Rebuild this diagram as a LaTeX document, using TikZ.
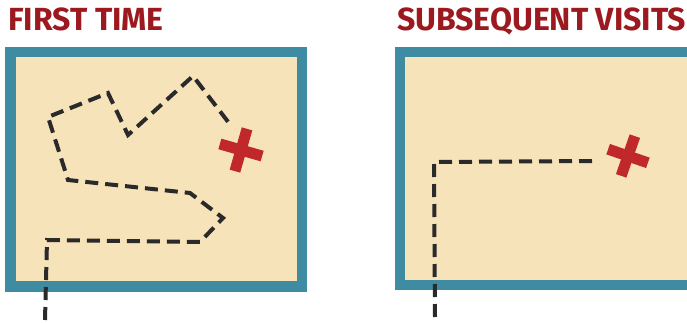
\documentclass[tikz,border=0pt]{standalone}
\usepackage{fontspec}
\setsansfont{Fira Sans}
\usepackage{tikz}
\usetikzlibrary{calc}
\usepackage{xcolor}
\definecolor{ftitle}{HTML}{9C1A1F}
\definecolor{fteal}{HTML}{3F8CA2}
\definecolor{fmap}{HTML}{F6E3B9}
\definecolor{fcross}{HTML}{C1282A}
\definecolor{ftrail}{HTML}{2A2A2A}
\tikzset{
  title/.style   = {anchor=base west, inner sep=0pt, text=ftitle,
                    font=\sffamily\bfseries\fontsize{32}{32}\selectfont},
  frame/.style   = {fill=fteal},
  paper/.style   = {fill=fmap},
  trail/.style   = {draw=ftrail, line width=4pt, line join=miter,
                    dash pattern=on 13pt off 7pt},
  crossarm/.style= {fill=fcross},
}
\begin{document}
\begin{tikzpicture}[x=1pt,y=-1pt]
\useasboundingbox (0,0) rectangle (687,323);
% titles
\node[title] (first) at (8,31) {FIRST TIME};
\node[title] (later) at (397,31) {SUBSEQUENT VISITS};
% maps
\fill[frame] (5,47) rectangle (307,292);
\fill[paper] (16,57) rectangle (297,281);
\fill[frame] (395,47) rectangle (687,290);
\fill[paper] (405,57) rectangle (687,280);
% first time: wandering
\draw[trail] (45,320) -- (47,240) -- (200,242) -- (223,218) -- (190,193)
  -- (68,180) -- (48,117) -- (108,93) -- (128,135) -- (193,76) -- (232,127);
% later: straight
\draw[trail] (435,317) -- (434,162) -- (595,161);
% crosses
\foreach \cx/\cy/\ang/\len in {241/150/-16/22, 628/156/-19/21}{
  \begin{scope}[shift={(\cx,\cy)}, rotate=\ang]
    \fill[crossarm] (-\len,-5.5) rectangle (\len,5.5);
    \fill[crossarm] (-5.5,-\len) rectangle (5.5,\len);
  \end{scope}
}
\end{tikzpicture}
\end{document}
